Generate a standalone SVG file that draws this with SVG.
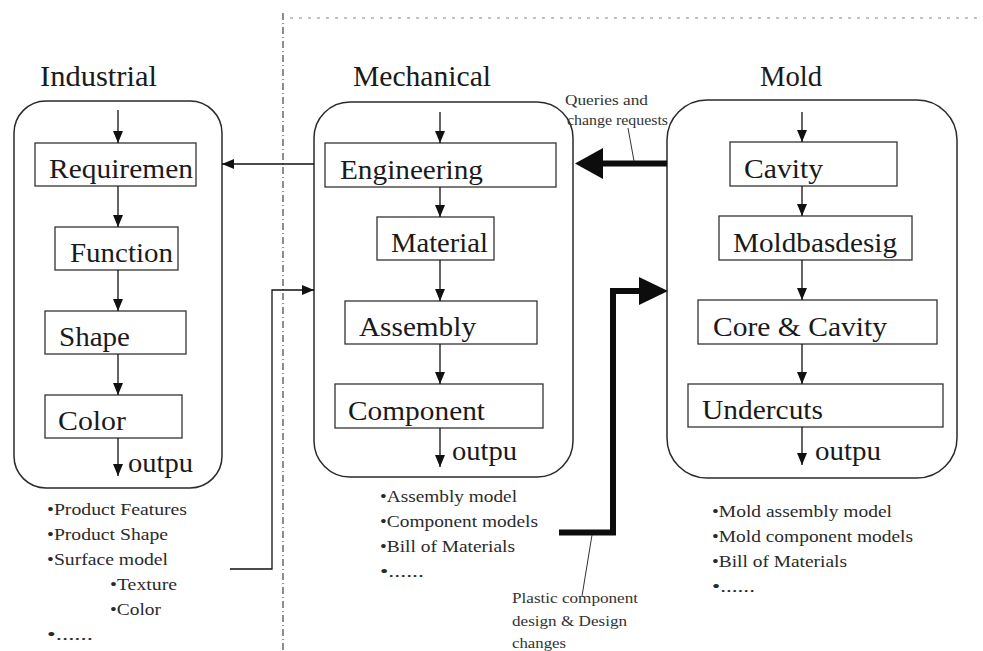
<svg xmlns="http://www.w3.org/2000/svg" width="983" height="651" viewBox="0 0 983 651">
  <defs>
    <marker id="tri" markerWidth="12" markerHeight="10" refX="12" refY="5" orient="auto" markerUnits="userSpaceOnUse">
      <path d="M0,0 L12,5 L0,10 Z" fill="#111"/>
    </marker>
    <style>
      text { font-family: "Liberation Serif", "Times New Roman", serif; fill: #1a1a1a; }
      .title { font-size: 30px; }
      .lbl { font-size: 27px; }
      .out { font-size: 27px; }
      .list { font-size: 17.5px; fill: #2a2a2a; }
      .note { font-size: 14.5px; fill: #333; }
      .group { fill: none; stroke: #2a2a2a; stroke-width: 1.5; }
      .box { fill: #fff; stroke: #333; stroke-width: 1.3; }
      .flow { stroke: #111; stroke-width: 1.3; fill: none; marker-end: url(#tri); }
      .thick { stroke: #0d0d0d; stroke-width: 6; fill: none; }
      .lead { stroke: #333; stroke-width: 1; fill: none; }
    </style>
  </defs>
  <rect width="983" height="651" fill="#fff"/>

  <!-- partition lines -->
  <g id="partition">
    <line x1="283" y1="13" x2="283" y2="651" stroke="#444" stroke-width="1.2" stroke-dasharray="7 3 1 3"/>
    <line x1="290" y1="18" x2="983" y2="18" stroke="#888" stroke-width="1.2" stroke-dasharray="3 6"/>
  </g>

  <!-- Industrial design stage -->
  <g id="industrial">
    <text class="title" x="40" y="86" textLength="117" lengthAdjust="spacingAndGlyphs">Industrial</text>
    <rect class="group" x="14" y="101" width="208" height="387" rx="32"/>
    <g id="ind-requirement"><rect class="box" x="35" y="143" width="161" height="43"/><text class="lbl" x="49" y="178" textLength="144" lengthAdjust="spacingAndGlyphs">Requiremen</text></g>
    <g id="ind-function"><rect class="box" x="55" y="227" width="123" height="43"/><text class="lbl" x="70" y="262" textLength="103" lengthAdjust="spacingAndGlyphs">Function</text></g>
    <g id="ind-shape"><rect class="box" x="45" y="311" width="141" height="43"/><text class="lbl" x="59" y="346" textLength="71" lengthAdjust="spacingAndGlyphs">Shape</text></g>
    <g id="ind-color"><rect class="box" x="45" y="395" width="137" height="43"/><text class="lbl" x="58" y="430" textLength="68" lengthAdjust="spacingAndGlyphs">Color</text></g>
    <text class="out" x="128" y="472" textLength="65" lengthAdjust="spacingAndGlyphs">outpu</text>
    <text class="list" x="47" y="515" textLength="140" lengthAdjust="spacingAndGlyphs">•Product Features</text>
    <text class="list" x="47" y="540" textLength="121" lengthAdjust="spacingAndGlyphs">•Product Shape</text>
    <text class="list" x="47" y="565" textLength="121" lengthAdjust="spacingAndGlyphs">•Surface model</text>
    <text class="list" x="110" y="590" textLength="67" lengthAdjust="spacingAndGlyphs">•Texture</text>
    <text class="list" x="110" y="615" textLength="51" lengthAdjust="spacingAndGlyphs">•Color</text>
    <text class="list" x="47" y="640" textLength="46" lengthAdjust="spacingAndGlyphs">•......</text>
  </g>

  <!-- Mechanical design stage -->
  <g id="mechanical">
    <text class="title" x="353" y="86" textLength="138" lengthAdjust="spacingAndGlyphs">Mechanical</text>
    <rect class="group" x="314" y="102" width="259" height="375" rx="36"/>
    <g id="mech-engineering"><rect class="box" x="325" y="143" width="231" height="44"/><text class="lbl" x="340" y="179" textLength="143" lengthAdjust="spacingAndGlyphs">Engineering</text></g>
    <g id="mech-material"><rect class="box" x="377" y="217" width="117" height="43"/><text class="lbl" x="391" y="252" textLength="97" lengthAdjust="spacingAndGlyphs">Material</text></g>
    <g id="mech-assembly"><rect class="box" x="345" y="301" width="192" height="43"/><text class="lbl" x="359" y="336" textLength="117" lengthAdjust="spacingAndGlyphs">Assembly</text></g>
    <g id="mech-component"><rect class="box" x="335" y="384" width="208" height="44"/><text class="lbl" x="348" y="420" textLength="137" lengthAdjust="spacingAndGlyphs">Component</text></g>
    <text class="out" x="452" y="460" textLength="65" lengthAdjust="spacingAndGlyphs">outpu</text>
    <text class="list" x="380" y="502" textLength="137" lengthAdjust="spacingAndGlyphs">•Assembly model</text>
    <text class="list" x="380" y="527" textLength="158" lengthAdjust="spacingAndGlyphs">•Component models</text>
    <text class="list" x="380" y="552" textLength="135" lengthAdjust="spacingAndGlyphs">•Bill of Materials</text>
    <text class="list" x="380" y="577" textLength="44" lengthAdjust="spacingAndGlyphs">•......</text>
  </g>

  <!-- Mold design stage -->
  <g id="mold">
    <text class="title" x="760" y="86" textLength="62" lengthAdjust="spacingAndGlyphs">Mold</text>
    <rect class="group" x="667" y="100" width="290" height="378" rx="40"/>
    <g id="mold-cavity"><rect class="box" x="730" y="142" width="167" height="44"/><text class="lbl" x="744" y="178" textLength="79" lengthAdjust="spacingAndGlyphs">Cavity</text></g>
    <g id="mold-moldbase"><rect class="box" x="719" y="216" width="193" height="44"/><text class="lbl" x="733" y="252" textLength="164" lengthAdjust="spacingAndGlyphs">Moldbasdesig</text></g>
    <g id="mold-core"><rect class="box" x="698" y="300" width="239" height="44"/><text class="lbl" x="713" y="336" textLength="174" lengthAdjust="spacingAndGlyphs">Core &amp; Cavity</text></g>
    <g id="mold-undercuts"><rect class="box" x="688" y="384" width="255" height="43"/><text class="lbl" x="702" y="419" textLength="121" lengthAdjust="spacingAndGlyphs">Undercuts</text></g>
    <text class="out" x="815" y="460" textLength="66" lengthAdjust="spacingAndGlyphs">outpu</text>
    <text class="list" x="712" y="517" textLength="180" lengthAdjust="spacingAndGlyphs">•Mold assembly model</text>
    <text class="list" x="712" y="542" textLength="201" lengthAdjust="spacingAndGlyphs">•Mold component models</text>
    <text class="list" x="712" y="567" textLength="135" lengthAdjust="spacingAndGlyphs">•Bill of Materials</text>
    <text class="list" x="712" y="592" textLength="43" lengthAdjust="spacingAndGlyphs">•......</text>
  </g>

  <!-- notes -->
  <g id="notes">
    <text class="note" x="565" y="105" textLength="83" lengthAdjust="spacingAndGlyphs">Queries and</text>
    <text class="note" x="567" y="125" textLength="101" lengthAdjust="spacingAndGlyphs">change requests</text>
    <text class="note" x="512" y="603" textLength="126" lengthAdjust="spacingAndGlyphs">Plastic component</text>
    <text class="note" x="512" y="626" textLength="115" lengthAdjust="spacingAndGlyphs">design &amp; Design</text>
    <text class="note" x="512" y="648" textLength="54" lengthAdjust="spacingAndGlyphs">changes</text>
  </g>

  <!-- connectors -->
  <g id="connectors">
    <!-- industrial flow -->
    <line class="flow" x1="118" y1="110" x2="118" y2="143"/>
    <line class="flow" x1="118" y1="186" x2="118" y2="227"/>
    <line class="flow" x1="118" y1="270" x2="118" y2="311"/>
    <line class="flow" x1="118" y1="354" x2="118" y2="395"/>
    <line class="flow" x1="118" y1="438" x2="118" y2="476"/>
    <!-- mechanical flow -->
    <line class="flow" x1="440" y1="112" x2="440" y2="143"/>
    <line class="flow" x1="440" y1="187" x2="440" y2="217"/>
    <line class="flow" x1="440" y1="260" x2="440" y2="301"/>
    <line class="flow" x1="440" y1="344" x2="440" y2="384"/>
    <line class="flow" x1="440" y1="428" x2="440" y2="467"/>
    <!-- mold flow -->
    <line class="flow" x1="802" y1="112" x2="802" y2="142"/>
    <line class="flow" x1="802" y1="186" x2="802" y2="216"/>
    <line class="flow" x1="802" y1="260" x2="802" y2="300"/>
    <line class="flow" x1="802" y1="344" x2="802" y2="384"/>
    <line class="flow" x1="802" y1="427" x2="802" y2="465"/>
    <!-- mechanical to industrial -->
    <line class="flow" x1="314" y1="164" x2="222" y2="164"/>
    <!-- industrial outputs to mechanical -->
    <polyline class="flow" points="230,569 272,569 272,290 314,290"/>
    <!-- mold queries back to mechanical -->
    <line class="thick" x1="667" y1="163.5" x2="600" y2="163.5"/>
    <polygon points="575,163.5 603,148 603,179" fill="#0d0d0d"/>
    <!-- mechanical outputs to mold -->
    <polyline class="thick" points="559,532.5 613,532.5 613,291 642,291" stroke-linejoin="miter"/>
    <polygon points="668,291 639,277 639,305" fill="#0d0d0d"/>
    <!-- label leaders -->
    <line class="lead" x1="628" y1="128" x2="634" y2="161"/>
    <line class="lead" x1="592" y1="535" x2="582" y2="596"/>
  </g>
</svg>
